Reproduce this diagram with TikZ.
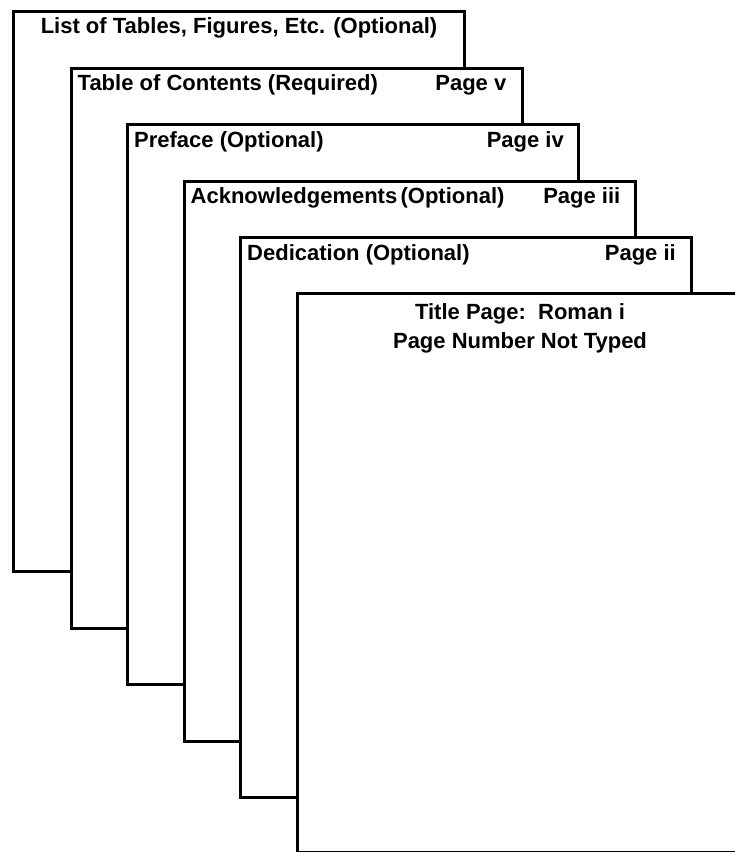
\documentclass[tikz,border=0pt]{standalone}
\usepackage{fontspec}
\setmainfont{Liberation Sans}
\begin{document}
\begin{tikzpicture}[x=1pt,y=-1pt,
  pagebox/.style={draw=black, line width=3pt, fill=white, rectangle, inner sep=0pt,
    minimum width=451pt, minimum height=560pt, anchor=north west},
  lbl/.style={font=\fontsize{22}{29}\selectfont\bfseries, inner sep=0pt}]
\useasboundingbox (0,0) rectangle (735,852);
\clip (0,0) rectangle (735,852);
\node[pagebox] (p1) at (12,10) {};
\node[pagebox] (p2) at (69.5,66.5) {};
\node[pagebox] (p3) at (126,123) {};
\node[pagebox] (p4) at (182.5,179.5) {};
\node[pagebox] (p5) at (239,236) {};
\node[pagebox, minimum height=559pt] (p6) at (296,292) {};
\node[lbl, anchor=center] (t1) at ([yshift=-18pt]p1.north) {List of Tables, Figures, Etc. (Optional)};
\node[lbl, anchor=west] (t2) at ([xshift=8pt,yshift=-18.5pt]p2.north west) {Table of Contents (Required)};
\node[lbl, anchor=east] (n2) at ([xshift=-17pt,yshift=-18.5pt]p2.north east) {Page v};
\node[lbl, anchor=west] (t3) at ([xshift=8pt,yshift=-18.5pt]p3.north west) {Preface (Optional)};
\node[lbl, anchor=east] (n3) at ([xshift=-16pt,yshift=-18.5pt]p3.north east) {Page iv};
\node[lbl, anchor=west] (t4) at ([xshift=8pt,yshift=-18.5pt]p4.north west) {Acknowledgements\hspace{0.15em}(Optional)};
\node[lbl, anchor=east] (n4) at ([xshift=-16pt,yshift=-18.5pt]p4.north east) {Page iii};
\node[lbl, anchor=west] (t5) at ([xshift=8pt,yshift=-18.5pt]p5.north west) {Dedication (Optional)};
\node[lbl, anchor=east] (n5) at ([xshift=-17pt,yshift=-18.5pt]p5.north east) {Page ii};
\node[lbl, anchor=center, align=center] (t6) at (520,328) {Title Page:\ \ Roman i\\Page Number Not Typed};
\end{tikzpicture}
\end{document}
